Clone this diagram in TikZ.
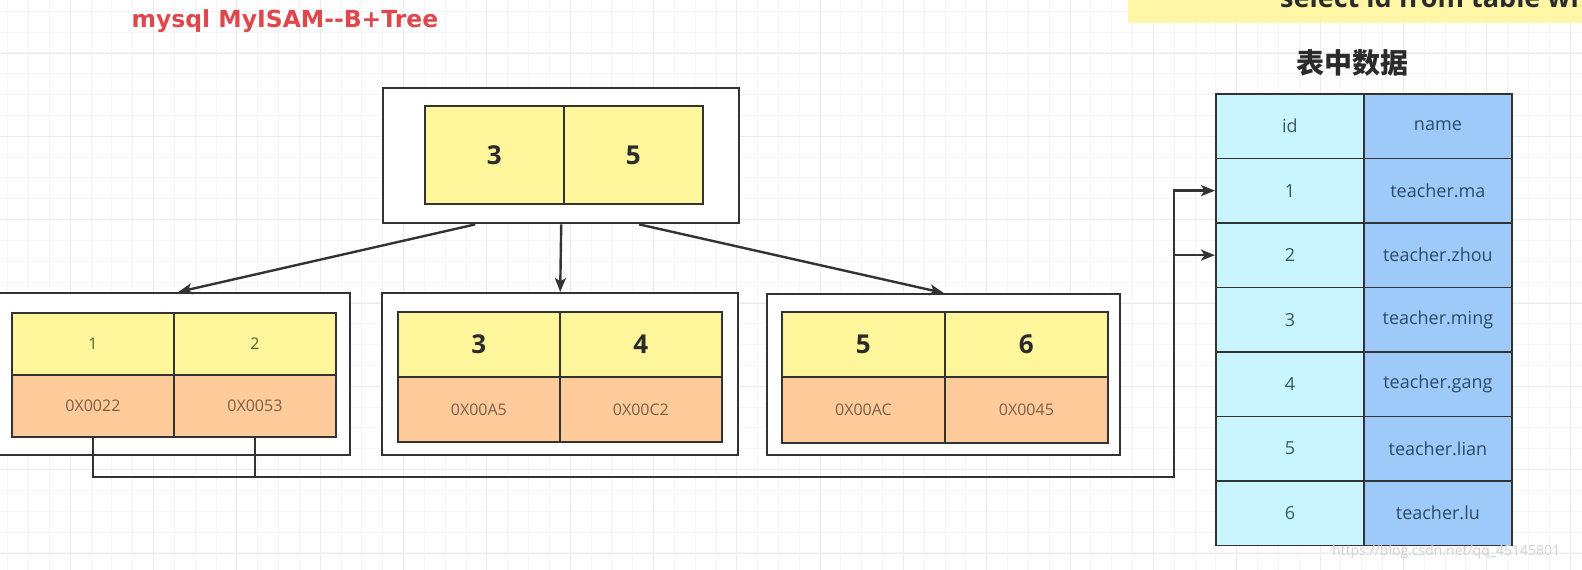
\documentclass[tikz,border=0pt]{standalone}
\usepackage{fontspec}
\setmainfont{Open Sans}
\newfontfamily\cjk{Noto Sans CJK SC}
\newfontfamily\widesans{DejaVu Sans}
\usetikzlibrary{arrows.meta, positioning}
\definecolor{cline}{HTML}{333333}
\definecolor{cdark}{HTML}{2B2B2B}
\definecolor{ckey}{HTML}{FFF59A}
\definecolor{cptr}{HTML}{FFCB9A}
\definecolor{cid}{HTML}{C9F5FF}
\definecolor{cname}{HTML}{9DCAF8}
\definecolor{cred}{HTML}{E0474C}
\definecolor{cnote}{HTML}{FFF7A6}
\definecolor{ckeytxt}{HTML}{5E5C35}
\definecolor{cptrtxt}{HTML}{7D5F47}
\definecolor{cidtxt}{HTML}{3E5966}
\definecolor{cnametxt}{HTML}{2E4A66}

\begin{document}
\begin{tikzpicture}[x=1pt, y=-1pt,
  gridmajor/.style={draw=black!8, line width=0.8pt},
  gridminor/.style={draw=black!4, line width=0.5pt},
  frame/.style 2 args={draw=cline, line width=2.4pt, fill=white, inner sep=0pt,
              anchor=north west, minimum width=#1, minimum height=#2},
  cell/.style={draw=cline, line width=1.8pt, inner sep=0pt, anchor=north west},
  bigkey/.style={cell, fill=ckey, text=cdark, font=\fontsize{26}{30}\selectfont\bfseries},
  key/.style={cell, fill=ckey, text=ckeytxt, font=\fontsize{16}{18}\selectfont},
  ptr/.style={cell, fill=cptr, text=cptrtxt, font=\fontsize{16}{18}\selectfont},
  idcell/.style={cell, fill=cid, text=cidtxt, minimum width=148pt, minimum height=64.5pt,
              font=\fontsize{18}{21}\selectfont},
  namecell/.style={cell, fill=cname, text=cnametxt, minimum width=148pt, minimum height=64.5pt,
              font=\fontsize{18}{21}\selectfont},
  arr/.style={-{Stealth[length=14pt, width=11pt, inset=3.5pt]}, draw=cline, line width=2.4pt}
]
\useasboundingbox (0,0) rectangle (1582,570);
\clip (0,0) rectangle (1582,570);
\fill[white] (0,0) rectangle (1582,570);

% canvas grid
\foreach \i in {0,...,79} {
  \draw[gridminor] ({-13.3+20.83*\i},0) -- ++(0,570);
}
\foreach \i in {0,...,29} {
  \draw[gridminor] (0,{11+20.83*\i}) -- ++(1582,0);
}
\foreach \i in {0,...,19} {
  \draw[gridmajor] ({-13.3+83.33*\i},0) -- ++(0,570);
}
\foreach \i in {0,...,7} {
  \draw[gridmajor] (0,{-30.3+83.33*\i}) -- ++(1582,0);
}

% titles
\node[fill=cnote, inner sep=0pt, anchor=north west, minimum width=480pt, minimum height=30pt]
  (note) at (1128,-7) {};
\node[anchor=base west, inner sep=0pt, text=cdark, font=\fontsize{27}{30}\selectfont\bfseries]
  (notetxt) at (1280,8) {select id from table where};
\node[anchor=west, text=cred, font=\widesans\fontsize{23.5}{27}\selectfont\bfseries]
  (title) at (128,21) {mysql MyISAM-{}-B+Tree};
\node[text=cdark, font=\cjk\bfseries\fontsize{28}{31}\selectfont]
  (tabtitle) at (1352,63) {表中数据};

% root node
\node[frame={356pt}{135pt}] (root) at (382,87) {};
\node[bigkey, minimum width=139pt, minimum height=98pt] (r1) at (424,105) {3};
\node[bigkey, minimum width=139pt, minimum height=98pt] (r2) at (563,105) {5};

% leaf nodes
\node[frame={354pt}{162pt}] (leafL) at (-5,292) {};
\node[key, minimum width=162pt, minimum height=62pt] (k1) at (11,312) {1};
\node[key, minimum width=162pt, minimum height=62pt] (k2) at (173,312) {2};
\node[ptr, minimum width=162pt, minimum height=62pt] (p1) at (11,374) {0X0022};
\node[ptr, minimum width=162pt, minimum height=62pt] (p2) at (173,374) {0X0053};

\node[frame={356pt}{162pt}] (leafM) at (381,292) {};
\node[bigkey, minimum width=162pt, minimum height=65pt] (k3) at (397,311) {3};
\node[bigkey, minimum width=162pt, minimum height=65pt] (k4) at (559,311) {4};
\node[ptr, minimum width=162pt, minimum height=65pt] (p3) at (397,376) {0X00A5};
\node[ptr, minimum width=162pt, minimum height=65pt] (p4) at (559,376) {0X00C2};

\node[frame={353pt}{161pt}] (leafR) at (766,293) {};
\node[bigkey, minimum width=163pt, minimum height=65pt] (k5) at (781,311) {5};
\node[bigkey, minimum width=163pt, minimum height=65pt] (k6) at (944,311) {6};
\node[ptr, minimum width=163pt, minimum height=66pt] (p5) at (781,376) {0X00AC};
\node[ptr, minimum width=163pt, minimum height=66pt] (p6) at (944,376) {0X0045};

\draw[arr] ([xshift=-86pt]root.south) -- ([xshift=5pt]leafL.north);
\draw[arr] (root.south) -- (leafM.north);
\draw[arr] ([xshift=78pt]root.south) -- (leafR.north);

% table data
\node[idcell] (id0) at (1215,93) {id};
\node[namecell] (nm0) at (1363,93) {name};
\foreach \i/\nm in {1/teacher.ma, 2/teacher.zhou, 3/teacher.ming,
                    4/teacher.gang, 5/teacher.lian, 6/teacher.lu} {
  \node[idcell] (id\i) at (1215,{93+64.5*\i}) {\i};
  \node[namecell] (nm\i) at (1363,{93+64.5*\i}) {\nm};
}

\coordinate (bus) at (1174,477);
\draw[arr] (p1.south) |- (bus) |- (id1.west);
\draw[arr] (p2.south) |- (bus) |- (id2.west);

\node[anchor=west, inner sep=0pt, text=black!18, font=\fontsize{14}{16}\selectfont]
  (mark) at (1332,552) {https://blog.csdn.net/qq\_45145801};
\end{tikzpicture}
\end{document}
